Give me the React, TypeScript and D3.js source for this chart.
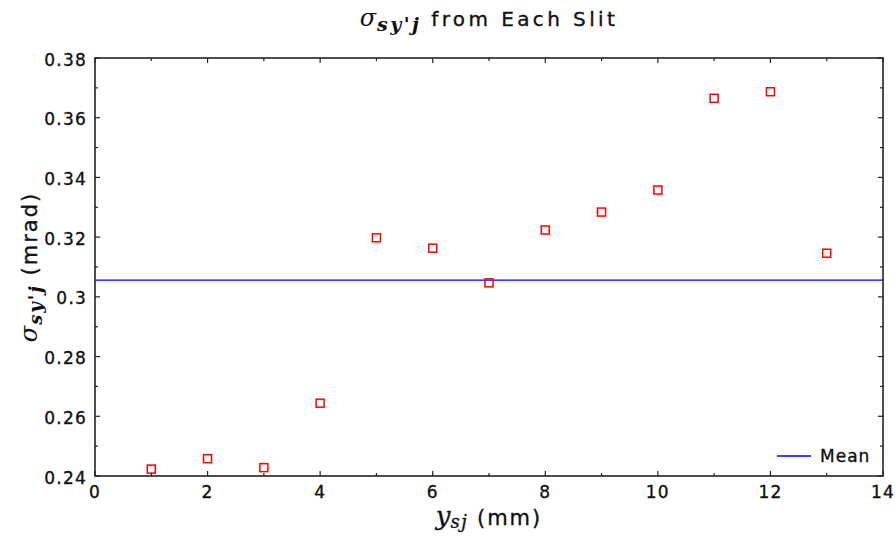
import React from "react";
import * as d3 from "d3";

const slitPos: number[] = [1, 2, 3, 4, 5, 6, 7, 8, 9, 10, 11, 12, 13];
const sigmaVals: number[] = [0.2423, 0.2458, 0.2428, 0.2644, 0.3198, 0.3163, 0.3047, 0.3224, 0.3284, 0.3358, 0.3665, 0.3687, 0.3146];
const xTicks: number[] = [0, 2, 4, 6, 8, 10, 12, 14];
const yTicks: number[] = [0.24, 0.26, 0.28, 0.3, 0.32, 0.34, 0.36, 0.38];

const W = 895, H = 539;
const L = 95, R = 883, T = 58, B = 476;
const font = "'DejaVu Sans', 'Liberation Sans', sans-serif";
const serif = "'DejaVu Serif', 'Liberation Serif', serif";

export default function App() {
  const x = d3.scaleLinear().domain([0, 14]).range([L, R]);
  const y = d3.scaleLinear().domain([0.24, 0.38]).range([B, T]);
  const mean = d3.mean(sigmaVals) as number;
  const xMinor = d3.range(0, 14.001, 1);
  const yMinor = d3.range(0, 15).map((i) => 0.24 + i * 0.01);
  const axisCol = "#222";
  const fmt = (v: number) => {
    const s = d3.format(".2f")(v);
    return s === "0.30" ? "0.3" : s;
  };
  const txt = { fill: "#111", stroke: "#111", strokeWidth: 0.35 };
  return (
    <svg width={W} height={H} style={{ display: "block", position: "absolute", left: 0, top: 0, background: "#fff" }}>
      <rect x={0} y={0} width={W} height={H} fill="#fff" />
      {/* title */}
      <text x={489} y={26} textAnchor="middle" fontFamily={font} fontSize={20} letterSpacing={3.4} {...txt}>
        <tspan fontFamily={serif} fontStyle="italic" fontSize={24} letterSpacing={1} strokeWidth={0}>σ</tspan>
        <tspan fontFamily={serif} fontStyle="italic" fontWeight="bold" fontSize={19} dy={5} letterSpacing={2.5} strokeWidth={0}>sy'j</tspan>
        <tspan dy={-5}> from Each Slit</tspan>
      </text>
      {/* mean line */}
      <line x1={L} x2={R} y1={y(mean)} y2={y(mean)} stroke="#0000ff" strokeWidth={1.3} />
      {/* points */}
      {slitPos.map((p, i) => (
        <rect key={i} x={x(p) - 4} y={y(sigmaVals[i]) - 4} width={8} height={8} fill="none" stroke="#ff0000" strokeWidth={1.5} />
      ))}
      {/* frame */}
      <rect x={L} y={T} width={R - L} height={B - T} fill="none" stroke={axisCol} strokeWidth={1.6} />
      {/* ticks */}
      {xMinor.map((v) => (
        <g key={"xt" + v}>
          <line x1={x(v)} x2={x(v)} y1={B} y2={B - (v % 2 === 0 ? 5 : 3)} stroke={axisCol} strokeWidth={1.2} />
          <line x1={x(v)} x2={x(v)} y1={T} y2={T + (v % 2 === 0 ? 5 : 3)} stroke={axisCol} strokeWidth={1.2} />
        </g>
      ))}
      {yMinor.map((v, i) => (
        <g key={"yt" + i}>
          <line x1={L} x2={L + (i % 2 === 0 ? 5 : 3)} y1={y(v)} y2={y(v)} stroke={axisCol} strokeWidth={1.2} />
          <line x1={R} x2={R - (i % 2 === 0 ? 5 : 3)} y1={y(v)} y2={y(v)} stroke={axisCol} strokeWidth={1.2} />
        </g>
      ))}
      {xTicks.map((v) => (
        <text key={"xl" + v} x={x(v)} y={B + 22} textAnchor="middle" fontFamily={font} fontSize={17} letterSpacing={1.2} {...txt}>{v}</text>
      ))}
      {yTicks.map((v) => (
        <text key={"yl" + v} x={L - 8} y={y(v) + 7.5} textAnchor="end" fontFamily={font} fontSize={17} letterSpacing={1.2} {...txt}>{fmt(v)}</text>
      ))}
      {/* x label */}
      <text x={489} y={525} textAnchor="middle" fontFamily={font} fontSize={21} letterSpacing={2} {...txt}>
        <tspan fontFamily={serif} fontStyle="italic" fontSize={26} letterSpacing={0}>y</tspan>
        <tspan fontFamily={serif} fontStyle="italic" fontSize={18} dy={3} letterSpacing={1.5}>sj</tspan>
        <tspan dy={-3}> (mm)</tspan>
      </text>
      {/* y label */}
      <text transform={`translate(37, 267) rotate(-90)`} textAnchor="middle" fontFamily={font} fontSize={21} letterSpacing={2} {...txt}>
        <tspan fontFamily={serif} fontStyle="italic" fontSize={24} letterSpacing={1} strokeWidth={0}>σ</tspan>
        <tspan fontFamily={serif} fontStyle="italic" fontWeight="bold" fontSize={18} dy={5} letterSpacing={2} strokeWidth={0}>sy'j</tspan>
        <tspan dy={-5}> (mrad)</tspan>
      </text>
      {/* legend */}
      <line x1={777} x2={811} y1={456} y2={456} stroke="#0000ff" strokeWidth={1.3} />
      <text x={820} y={462} fontFamily={font} fontSize={17} letterSpacing={1} {...txt}>Mean</text>
    </svg>
  );
}
